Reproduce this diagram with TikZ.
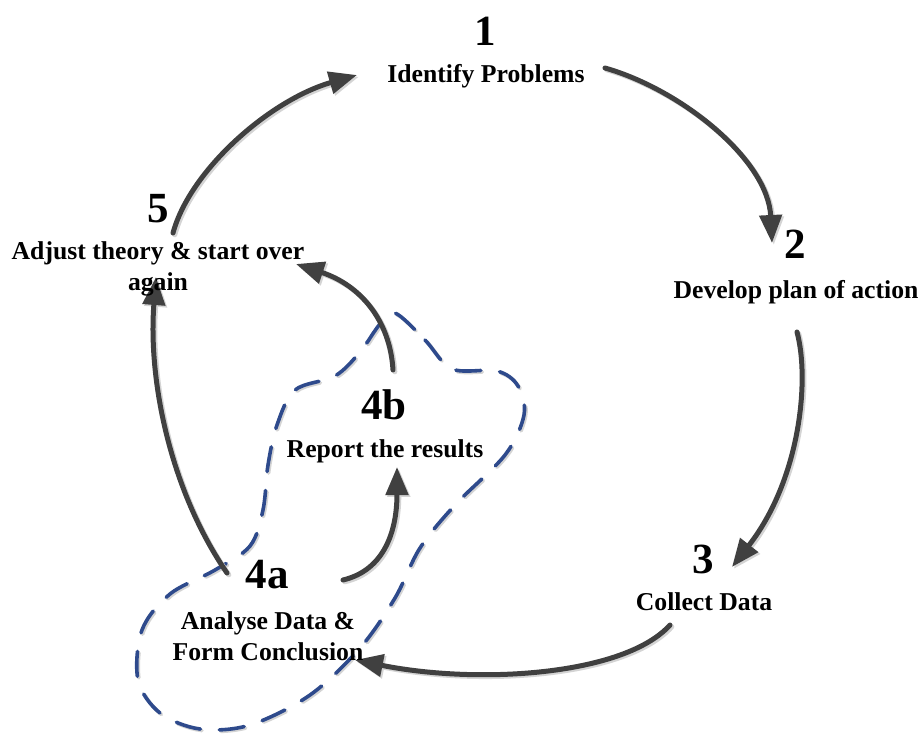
\documentclass[tikz,border=0pt]{standalone}
\usepackage{fontspec}
\setmainfont{Liberation Serif}
\usetikzlibrary{arrows.meta}

\definecolor{flowgray}{HTML}{404040}
\definecolor{blobblue}{HTML}{2E4A8C}
\definecolor{shadowgray}{HTML}{D4D4D4}

\tikzset{
  stepnum/.style={font=\bfseries\fontsize{43}{43}\selectfont, inner sep=0pt, anchor=base},
  steplbl/.style={font=\bfseries\fontsize{25.7}{31}\selectfont, inner sep=0pt, anchor=base, align=center},
  tipshape/.style={-{Triangle[length=28pt,width=22pt]}},
  flowarrow/.style={draw=flowgray, line width=5pt, line cap=round, tipshape,
    preaction={draw=shadowgray, line width=5pt, line cap=round, tipshape,
      transform canvas={shift={(1.8pt,-1.8pt)}}}},
  blobline/.style={draw=blobblue, line width=3.6pt, line cap=round,
    dash pattern=on 25pt off 19pt,
    preaction={draw=shadowgray, line width=3.6pt, line cap=round,
      dash pattern=on 25pt off 19pt, transform canvas={shift={(1.5pt,-1.5pt)}}}},
}

\begin{document}
\begin{tikzpicture}[x=1pt,y=-1pt]
\useasboundingbox[fill=white] (0,0) rectangle (922,734);

% dashed outline grouping steps 4a and 4b
\draw[blobline] plot[smooth cycle, tension=0.55] coordinates {
  (395,313) (425,340) (452,369) (497,371) (518,386) (524,415) (505,455)
  (455,505) (420,548) (395,598) (360,648) (310,695) (250,725) (200,729)
  (160,713) (138,680) (142,630) (170,594) (215,570) (250,546) (263,510)
  (268,465) (277,425) (295,390) (335,376) (360,352) (380,324)};

% arrow end points
\coordinate (a12s) at (605,68);  \coordinate (a12e) at (772,243);
\coordinate (a23s) at (797,332); \coordinate (a23e) at (732,567);
\coordinate (a34s) at (670,625); \coordinate (a34e) at (355,660);
\coordinate (a45s) at (227,573); \coordinate (a45e) at (156,277);
\coordinate (a51s) at (173,233); \coordinate (a51e) at (357,75);
\coordinate (aabs) at (343,580); \coordinate (aabe) at (397,467);
\coordinate (ab5s) at (393,370); \coordinate (ab5e) at (296,264);

% cycle arrows
\draw[flowarrow] (a12s) .. controls (682,90) and (768,160) .. (a12e);
\draw[flowarrow] (a23s) .. controls (810,380) and (800,480) .. (a23e);
\draw[flowarrow] (a34s) .. controls (625,675) and (480,685) .. (a34e);
\draw[flowarrow] (a45s) .. controls (170,490) and (148,380) .. (a45e);
\draw[flowarrow] (a51s) .. controls (190,170) and (270,100) .. (a51e);
\draw[flowarrow] (aabs) .. controls (385,570) and (397,530) .. (aabe);
\draw[flowarrow] (ab5s) .. controls (390,320) and (360,285) .. (ab5e);

% step numbers
\node[stepnum] (n1) at (485,45) {1};
\node[stepnum] (n2) at (795,258) {2};
\node[stepnum] (n3) at (703,573) {3};
\node[stepnum] (n4a) at (267,588) {4a};
\node[stepnum] (n4b) at (384,419) {4b};
\node[stepnum] (n5) at (158,222) {5};

% step labels (base anchor sits on the last line)
\node[steplbl] (t1) at (486,82) {Identify Problems};
\node[steplbl] (t2) at (796,298) {Develop plan of action};
\node[steplbl] (t3) at (704,610) {Collect Data};
\node[steplbl] (t4b) at (385,457) {Report the results};
\node[steplbl] (t4a) at (268,660) {Analyse Data \&\\Form Conclusion};
\node[steplbl] (t5) at (158,290) {Adjust theory \& start over\\again};
\end{tikzpicture}
\end{document}
